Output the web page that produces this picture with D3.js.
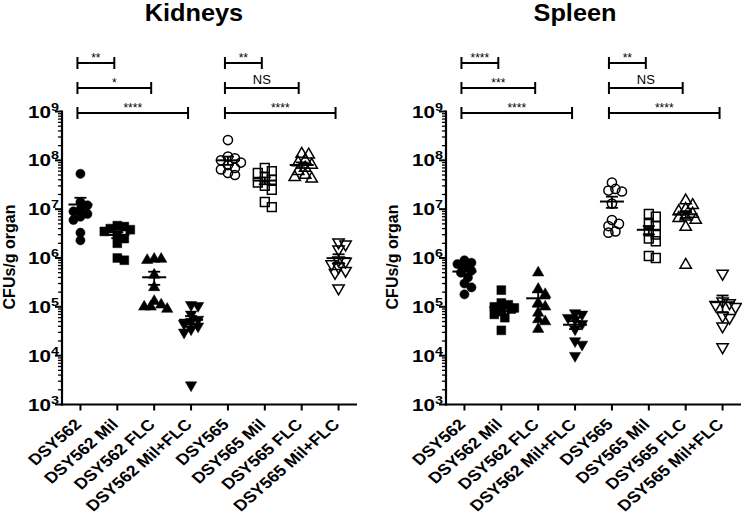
<!DOCTYPE html>
<html><head><meta charset="utf-8">
<script src="https://cdn.jsdelivr.net/npm/d3@7"></script>
<style>body{margin:0;background:#fff} text{font-family:"Liberation Sans",Arial,Helvetica,sans-serif}</style>
</head><body><svg id="c" width="742" height="522"></svg>
<script>
const categories = ["DSY562","DSY562 Mil","DSY562 FLC","DSY562 Mil+FLC","DSY565","DSY565 Mil","DSY565 FLC","DSY565 Mil+FLC"];
const panelTitles = ["Kidneys","Spleen"];
const yTickValues = [1e3,1e4,1e5,1e6,1e7,1e8,1e9];
const yLabel = "CFUs/g organ";

const kidneyValues = [
  [5.3e7,1.4e7,1.2e7,1.0e7,9e6,8e6,7e6,6e6,3.3e6,2.3e6],
  [4.4e6,4.6e6,4.0e6,3.8e6,3.5e6,3.0e6,2.5e6,2.0e6,1.0e6,9e5],
  [9.5e5,9.5e5,9.0e5,4.5e5,2.5e5,1.3e5,1.1e5,1.0e5,9e4,1.0e5],
  [1.1e5,1.05e5,7e4,5.5e4,5e4,4.5e4,4e4,3.5e4,3e4,2.5e3],
  [2.6e8,1.2e8,1.1e8,1.0e8,9e7,8e7,7e7,6.5e7,5.5e7,5e7],
  [7e7,6e7,5.5e7,4.5e7,4e7,3.5e7,3e7,2.5e7,1.4e7,1.1e7],
  [1.35e8,1.3e8,1.0e8,9e7,8e7,7e7,6e7,5e7,4.5e7,4.2e7],
  [2.1e6,1.9e6,1.5e6,9e5,8.5e5,7.5e5,6.5e5,5.5e5,5e5,2.4e5]
];
const spleenValues = [
  [9e5,8e5,7.5e5,6.5e5,5.5e5,5e5,4e5,3e5,2.5e5,1.8e5],
  [2.2e5,1.2e5,1.1e5,1.0e5,9.5e4,9e4,8e4,7e4,6e4,3.3e4],
  [5e5,2.3e5,1.8e5,1.2e5,1.0e5,7.5e4,5.5e4,5e4,3.5e4],
  [7.5e4,7e4,6e4,5.5e4,4.5e4,3.5e4,2e4,1.7e4,1e4],
  [3.5e7,2.6e7,2.4e7,2.3e7,1.3e7,6e6,5e6,4.5e6,3.5e6,3.3e6],
  [8e6,7e6,5e6,4.5e6,3.5e6,3e6,2.5e6,2.2e6,1.1e6,1.0e6],
  [1.5e7,1.2e7,1.0e7,9e6,8e6,7e6,6.5e6,6e6,4.3e6,7.2e5],
  [4.8e5,1.3e5,1.2e5,1.1e5,1.0e5,6.5e4,6e4,4e4,1.5e4]
];
const kidneySig = [[0,1,"**"],[0,2,"*"],[0,3,"****"],[4,5,"**"],[4,6,"NS"],[4,7,"****"]];
const spleenSig = [[0,1,"****"],[0,2,"***"],[0,3,"****"],[4,5,"**"],[4,6,"NS"],[4,7,"****"]];

const svg = d3.select("#c");
const symbolTypes = [d3.symbolCircle,d3.symbolSquare,d3.symbolTriangle,d3.symbolTriangle];
const symbolSizes = [66,78,56,56];

function drawPanel(p, values, sig, axisX, titleX, ylabX){
  const g = svg.append("g");
  const x = d3.scalePoint().domain(categories).range([axisX, axisX+295]).padding(0.5);
  const y = d3.scaleLog().domain([1e3,1e9]).range([404.5,111.5]);

  g.append("text").attr("transform",`translate(${titleX},21) scale(1.1,1)`).attr("text-anchor","middle")
    .attr("font-size",23).attr("font-weight","bold").text(panelTitles[p]);

  // y axis
  const minor = [];
  for(let e=3;e<9;e++) for(let k=2;k<10;k++) minor.push(k*Math.pow(10,e));
  g.append("g").selectAll("line").data(minor).join("line")
    .attr("x1",axisX-4).attr("x2",axisX).attr("y1",d=>y(d)).attr("y2",d=>y(d))
    .attr("stroke","#000").attr("stroke-width",1.3);
  g.append("g").selectAll("line").data(yTickValues).join("line")
    .attr("x1",axisX-7).attr("x2",axisX).attr("y1",d=>y(d)).attr("y2",d=>y(d))
    .attr("stroke","#000").attr("stroke-width",2);
  const tl = g.append("g").selectAll("text").data(yTickValues).join("text")
    .attr("transform",d=>`translate(${axisX-3},${y(d)+6}) scale(1.25,1)`).attr("text-anchor","end")
    .attr("font-size",16.5).attr("font-weight","bold");
  tl.append("tspan").text("10");
  tl.append("tspan").attr("font-size",11.5).attr("dy",-7).text(d=>Math.round(Math.log10(d)));
  g.append("line").attr("x1",axisX).attr("x2",axisX).attr("y1",y(1e9)-1).attr("y2",y(1e3)+1)
    .attr("stroke","#000").attr("stroke-width",2.2);
  g.append("text").attr("transform",`translate(${ylabX},257) rotate(-90)`).attr("text-anchor","middle")
    .attr("font-size",16).attr("font-weight","bold").text(yLabel);

  // x axis
  g.append("line").attr("x1",axisX-1).attr("x2",axisX+295).attr("y1",y(1e3)).attr("y2",y(1e3))
    .attr("stroke","#000").attr("stroke-width",2.2);
  g.append("g").selectAll("line").data(categories).join("line")
    .attr("x1",d=>x(d)).attr("x2",d=>x(d)).attr("y1",y(1e3)).attr("y2",y(1e3)+6)
    .attr("stroke","#000").attr("stroke-width",2);
  g.append("g").selectAll("text").data(categories).join("text")
    .attr("transform",d=>`translate(${x(d)+2},${y(1e3)+21}) scale(1.15,1) rotate(-45)`)
    .attr("text-anchor","end").attr("font-size",15.5).attr("font-weight","bold").text(d=>d);

  // significance bars
  sig.forEach((s,i)=>{
    const lvl = i%3;
    const by = [63,88,113][lvl];
    const x1 = x(categories[s[0]])-3, x2 = x(categories[s[1]])-3;
    g.append("line").attr("x1",x1).attr("x2",x2).attr("y1",by).attr("y2",by).attr("stroke","#000").attr("stroke-width",2);
    [x1,x2].forEach(xx=>g.append("line").attr("x1",xx).attr("x2",xx).attr("y1",by-6).attr("y2",by+6).attr("stroke","#000").attr("stroke-width",2));
    const isNS = s[2]==="NS";
    g.append("text").attr("x",(x1+x2)/2).attr("y",isNS?by-4:by-1).attr("text-anchor","middle")
      .attr("font-size",isNS?13:12).text(s[2]);
  });

  // points
  values.forEach((vals,ci)=>{
    const cx = x(categories[ci]);
    const filled = ci<4;
    const sorted = vals.slice().sort((a,b)=>b-a);
    const placed = [];
    const offs = [0,3.5,-3.5,7,-7,10,-10,13,-13];
    sorted.forEach(v=>{
      const py = y(v);
      let best = null;
      for(const o of offs){
        if(placed.every(q=>Math.hypot(q.x-o,q.y-py)>=6.5)){best=o;break;}
      }
      if(best===null) best = offs[placed.length%offs.length];
      placed.push({x:best,y:py,v});
    });
    const sym = d3.symbol().type(symbolTypes[ci%4]).size(symbolSizes[ci%4]);
    g.append("g").selectAll("path").data(placed).join("path")
      .attr("d",sym)
      .attr("transform",d=>`translate(${cx+d.x},${d.y})${ci%4===3?" rotate(180)":""}`)
      .attr("fill",filled?"#000":"none").attr("stroke","#000").attr("stroke-width",filled?0.5:1.5);
    const mean = d3.mean(vals);
    const sem = d3.deviation(vals)/Math.sqrt(vals.length);
    g.append("line").attr("x1",cx-12).attr("x2",cx+12).attr("y1",y(mean)).attr("y2",y(mean)).attr("stroke","#000").attr("stroke-width",2);
    g.append("line").attr("x1",cx).attr("x2",cx).attr("y1",y(mean+sem)).attr("y2",y(mean-sem)).attr("stroke","#000").attr("stroke-width",1.8);
    [mean+sem,mean-sem].forEach(v=>g.append("line").attr("x1",cx-6).attr("x2",cx+6).attr("y1",y(v)).attr("y2",y(v)).attr("stroke","#000").attr("stroke-width",1.8));
  });
}
drawPanel(0,kidneyValues,kidneySig,62,194,15);
drawPanel(1,spleenValues,spleenSig,446,575,398);
</script></body></html>
